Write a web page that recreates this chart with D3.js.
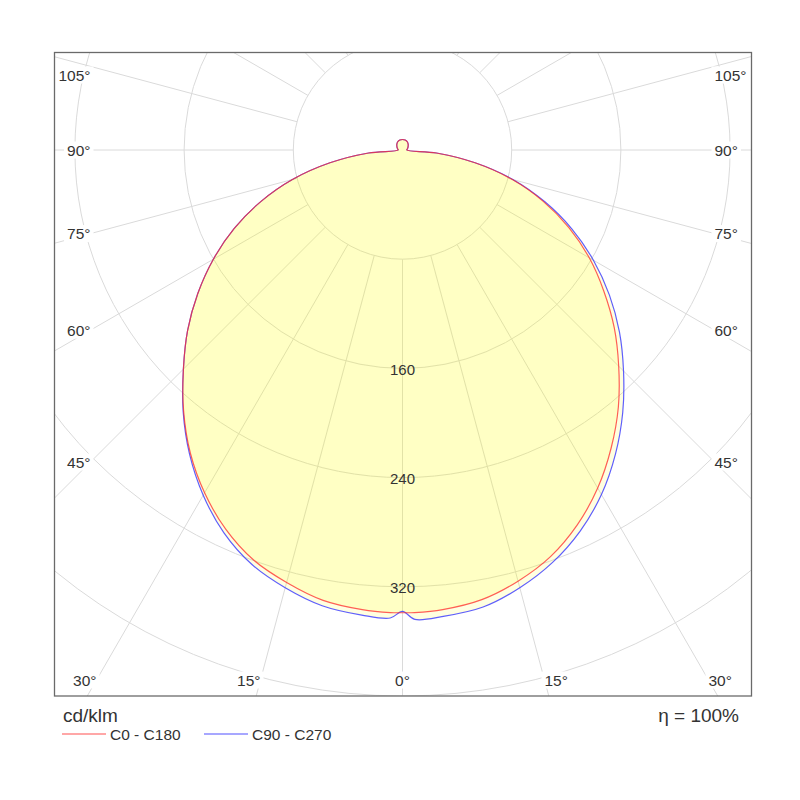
<!DOCTYPE html>
<html>
<head>
<meta charset="utf-8">
<script src="https://cdn.jsdelivr.net/npm/d3@7"></script>
<style>
  html, body { margin: 0; padding: 0; background: #fff; }
  svg { display: block; font-family: "Liberation Sans", Arial, sans-serif; }
</style>
</head>
<body>
<svg id="chart" width="800" height="800"></svg>
<script>
// ---- data (cd/klm) ----
const angles = [0, 1.5, 5, 10, 15, 20, 25, 30, 35, 40, 45, 50, 55, 60, 65, 70, 75, 80, 85, 90, 105, 120, 135, 150, 165, 180];
const c0   = [339, 339, 338, 334.5, 327, 317, 303, 286, 266.5, 246, 224, 202.5, 180, 158, 134.5, 109.5, 83, 54, 25, 3.2, 3.8, 4.7, 5.9, 7.0, 7.6, 7.7];
const c180 = [339, 339, 338, 335, 328, 319.5, 306.5, 290, 271, 249.5, 227, 205.5, 183, 160, 136, 110.5, 83.5, 54, 25, 3.2, 3.8, 4.7, 5.9, 7.0, 7.6, 7.7];
const c90  = [338, 344, 343, 340, 332, 321.5, 308, 291.5, 272, 251, 229, 207.5, 185, 161.5, 137, 111, 84, 54, 25, 3.2, 3.8, 4.7, 5.9, 7.0, 7.6, 7.7];
const c270 = [338, 343, 342, 339, 332, 323, 309.5, 292, 272, 250, 227, 205.5, 183, 160, 136, 110.5, 83.5, 54, 25, 3.2, 3.8, 4.7, 5.9, 7.0, 7.6, 7.7];
const gridValues = [80, 160, 240, 320, 400];
const valueLabels = [160, 240, 320];
const angleTicks = [0, 15, 30, 45, 60, 75, 90, 105];
const gridAngles = [0, 15, 30, 45, 60, 75, 90, 105, 120, 135, 150, 165, 180];
const seriesNames = ["C0 - C180", "C90 - C270"];
const unitLabel = "cd/klm";
const effLabel = "\u03B7 = 100%";

// ---- layout ----
const svg = d3.select("#chart");
const frame = {x: 54.5, y: 52.5, w: 697, h: 643.5};
const cx = 402.5, cy = 150;
const r = d3.scaleLinear().domain([0, 400]).range([0, 546]);
const rad = d => d * Math.PI / 180;

svg.append("rect").attr("width", 800).attr("height", 800).attr("fill", "#fff");

svg.append("defs").append("clipPath").attr("id", "fclip")
  .append("rect").attr("x", frame.x).attr("y", frame.y).attr("width", frame.w).attr("height", frame.h);

const plot = svg.append("g").attr("clip-path", "url(#fclip)");
const g = plot.append("g").attr("transform", `translate(${cx},${cy})`);

// grid circles
g.selectAll("circle.grid").data(gridValues).join("circle")
  .attr("r", d => r(d)).attr("fill", "none")
  .attr("stroke", "#dadada").attr("stroke-width", 1);

// radial lines (both sides) from first circle outward
const radials = [];
gridAngles.forEach(a => { radials.push(a); if (a !== 0 && a !== 180) radials.push(-a); });
g.selectAll("line.rad").data(radials).join("line")
  .attr("x1", d => r(gridValues[0]) * Math.sin(rad(d)))
  .attr("y1", d => r(gridValues[0]) * Math.cos(rad(d)))
  .attr("x2", d => 900 * Math.sin(rad(d)))
  .attr("y2", d => 900 * Math.cos(rad(d)))
  .attr("stroke", "#dadada").attr("stroke-width", 1);

// curves
const radial = d3.lineRadial().angle(d => d[0]).radius(d => d[1]).curve(d3.curveCatmullRomClosed.alpha(0.5));
function pts(rightVals, leftVals) {
  const p = angles.map((t, i) => [Math.PI - rad(t), r(rightVals[i])]);
  for (let i = angles.length - 2; i >= 1; i--) p.push([Math.PI + rad(angles[i]), r(leftVals[i])]);
  return p;
}
const series = [
  {pts: pts(c90, c270), color: "#2a2aff"},
  {pts: pts(c0, c180), color: "#ff2a2a"}
];
g.selectAll("path.fill").data(series).join("path")
  .attr("d", d => radial(d.pts))
  .attr("fill", "#ffff00").attr("fill-opacity", 0.12).attr("stroke", "none");
g.selectAll("path.line").data(series).join("path")
  .attr("d", d => radial(d.pts))
  .attr("fill", "none").attr("stroke", d => d.color)
  .attr("stroke-opacity", 0.75).attr("stroke-width", 1.2).attr("stroke-linejoin", "round");

// value labels
g.selectAll("text.val").data(valueLabels).join("text")
  .attr("x", 0).attr("y", d => r(d) + 1)
  .attr("text-anchor", "middle").attr("dominant-baseline", "central")
  .attr("font-size", 15).attr("fill", "#333").text(d => d);

// angle labels
const dIn = 312, yTop = 75, yBot = 680;
const labelData = [];
angleTicks.forEach(a => {
  [-1, 1].forEach(side => {
    if (a === 0 && side === 1) return;
    let x, y, anchor;
    if (a === 0) { x = cx; y = yBot; anchor = "middle"; }
    else {
      const t = rad(a);
      y = cy + dIn * Math.cos(t) / Math.sin(t);
      x = cx + side * dIn;
      if (y > yBot) { y = yBot; x = cx + side * (yBot - cy) * Math.tan(t); }
      if (y < yTop) y = yTop;
      anchor = side < 0 ? "end" : "start";
    }
    labelData.push({a, x, y, anchor});
  });
});
const lg = svg.append("g");
const lbl = lg.selectAll("g").data(labelData).join("g");
lbl.append("text")
  .attr("x", d => d.x).attr("y", d => d.y)
  .attr("text-anchor", d => d.anchor).attr("dominant-baseline", "central")
  .attr("font-size", 15.5).attr("fill", "#333").text(d => d.a + "\u00B0");
lbl.each(function() {
  const t = d3.select(this).select("text");
  const b = t.node().getBBox();
  d3.select(this).insert("rect", "text")
    .attr("x", b.x - 3).attr("y", b.y).attr("width", b.width + 6).attr("height", b.height)
    .attr("fill", "#fff");
});

// frame
svg.append("rect").attr("x", frame.x).attr("y", frame.y).attr("width", frame.w).attr("height", frame.h)
  .attr("fill", "none").attr("stroke", "#6a6a6a").attr("stroke-width", 1.3);

// bottom texts and legend
svg.append("text").attr("x", 63).attr("y", 722).attr("font-size", 19).attr("fill", "#333").text(unitLabel);
svg.append("text").attr("x", 739).attr("y", 722).attr("text-anchor", "end").attr("font-size", 19).attr("fill", "#333").text(effLabel);

const legendColors = ["#ff8a8a", "#8a8aff"];
const legendX = [62, 204];
const leg = svg.append("g").selectAll("g").data(seriesNames).join("g");
leg.append("line")
  .attr("x1", (d, i) => legendX[i]).attr("x2", (d, i) => legendX[i] + 44)
  .attr("y1", 734).attr("y2", 734)
  .attr("stroke", (d, i) => legendColors[i]).attr("stroke-width", 1.3);
leg.append("text")
  .attr("x", (d, i) => legendX[i] + 48).attr("y", 739.5)
  .attr("font-size", 15.5).attr("fill", "#333").text(d => d);
</script>
</body>
</html>
